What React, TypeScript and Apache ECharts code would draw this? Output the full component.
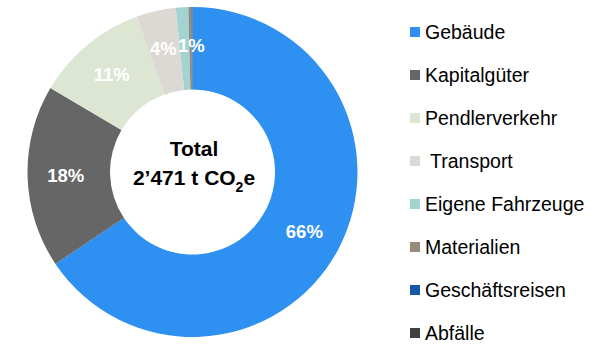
import React, { useEffect, useRef } from "react";
import * as echarts from "echarts";

const categories = [
  "Gebäude",
  "Kapitalgüter",
  "Pendlerverkehr",
  " Transport",
  "Eigene Fahrzeuge",
  "Materialien",
  "Geschäftsreisen",
  "Abfälle",
];
// tonnes CO2e (total 2'471)
const values = [1621, 442, 272, 96, 30, 7.4, 1.7, 0.9];
const colors = [
  "#2E90F0",
  "#666666",
  "#DCE6D2",
  "#DCD8D4",
  "#A2D3D1",
  "#978A7A",
  "#1458A6",
  "#404040",
];
// small nudges of crowded percentage labels (px)
const labelShift: Record<string, number[]> = { "Eigene Fahrzeuge": [7, 0], " Transport": [-1, 0] };
const centerLine1 = "Total";
const centerLine2a = "2’471 t CO";
const centerSub = "2";
const centerLine2b = "e";

const FONT = "'Liberation Sans', Arial, sans-serif";

export default function App() {
  const ref = useRef<HTMLDivElement>(null);
  useEffect(() => {
    if (!ref.current) return;
    const chart = echarts.init(ref.current, undefined, { renderer: "svg" });
    chart.setOption({
      animation: false,
      color: colors,
      legend: {
        orient: "vertical",
        left: 405,
        top: 17,
        itemWidth: 10,
        itemHeight: 10,
        itemGap: 23,
        icon: "rect",
        selectedMode: false,
        textStyle: { fontFamily: FONT, fontSize: 19.5, lineHeight: 20, color: "#000" },
        data: categories,
      },
      graphic: [
        {
          type: "text",
          x: 194,
          y: 163,
          style: {
            text: `{b|${centerLine1}}\n{b|${centerLine2a}}{s|${centerSub}}{b|${centerLine2b}}`,
            align: "center",
            verticalAlign: "middle",
            rich: {
              b: { fontFamily: FONT, fontSize: 21, fontWeight: "bold", lineHeight: 29, fill: "#000" },
              s: {
                fontFamily: FONT,
                fontSize: 14,
                fontWeight: "bold",
                lineHeight: 10,
                padding: [18, 0, 0, 0],
                fill: "#000",
              },
            },
          },
        },
      ],
      series: [
        {
          type: "pie",
          center: [192.5, 172],
          radius: [82.5, 165],
          startAngle: 90,
          clockwise: true,
          avoidLabelOverlap: false,
          emphasis: { disabled: true },
          labelLayout: { hideOverlap: false },
          label: {
            show: true,
            position: "inside",
            color: "#fff",
            fontFamily: FONT,
            fontSize: 18.5,
            fontWeight: "bold",
            formatter: (p: any) => (p.percent >= 1 ? Math.round(p.percent) + "%" : ""),
          },
          labelLine: { show: false },
          itemStyle: { borderWidth: 0 },
          data: categories.map((c, i) =>
            labelShift[c]
              ? { name: c, value: values[i], label: { offset: labelShift[c] } }
              : { name: c, value: values[i] }
          ),
        },
      ],
    });
    return () => chart.dispose();
  }, []);
  return (
    <div
      ref={ref}
      style={{ position: "fixed", left: 0, top: 0, width: 612, height: 355, background: "#fff" }}
    />
  );
}
